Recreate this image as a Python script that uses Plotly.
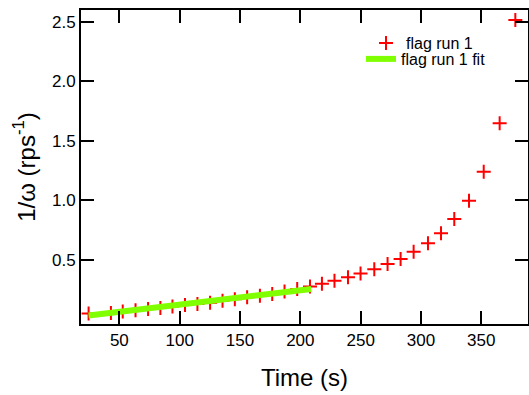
import plotly.graph_objects as go

time_s = [24.5, 43.0, 52.8, 63.4, 73.8, 84.0, 94.0, 104.4, 114.7, 125.2,
          135.5, 145.7, 155.9, 166.5, 176.7, 186.9, 197.4, 208.0, 217.9, 228.3,
          239.5, 249.9, 261.3, 272.3, 283.1, 293.9, 305.8, 316.6, 327.6, 339.8,
          352.0, 365.2, 378.2]
inv_omega = [0.050, 0.055, 0.066, 0.077, 0.088, 0.097, 0.108, 0.122, 0.130, 0.141,
             0.158, 0.170, 0.187, 0.200, 0.214, 0.234, 0.256, 0.276, 0.301, 0.326,
             0.355, 0.387, 0.422, 0.466, 0.508, 0.570, 0.640, 0.724, 0.845, 0.998,
             1.242, 1.649, 2.517]

fit_time = [24.5, 209.0]
fit_inv_omega = [0.033, 0.256]

x_ticks = [50, 100, 150, 200, 250, 300, 350]
y_ticks = [0.5, 1.0, 1.5, 2.0, 2.5]

FONT = "Liberation Sans, Arial, Helvetica, sans-serif"

fig = go.Figure()
fig.add_trace(go.Scatter(
    x=time_s, y=inv_omega, mode="markers", name="flag run 1",
    marker=dict(symbol="cross-thin-open", size=10, color="#ff0000",
                line=dict(color="#ff0000", width=2)),
    legend="legend",
))
fig.add_trace(go.Scatter(
    x=fit_time, y=fit_inv_omega, mode="lines", name="flag run 1 fit",
    line=dict(color="#80ff00", width=6),
    legend="legend2",
))

axis_common = dict(
    showline=True, linecolor="black", linewidth=2, mirror="ticks",
    ticks="inside", ticklen=13, tickwidth=2, tickcolor="black",
    showgrid=False, zeroline=False,
    tickfont=dict(family=FONT, size=17, color="black"),
)

fig.update_layout(
    width=529, height=395,
    margin=dict(l=81, r=1, t=10, b=71, autoexpand=False),
    paper_bgcolor="white", plot_bgcolor="white",
    font=dict(family=FONT, color="black"),
    showlegend=True,
    xaxis=dict(range=[18.2, 388.7], tickvals=x_ticks,
               title=dict(text="Time (s)", font=dict(family=FONT, size=24), standoff=20),
               **axis_common),
    yaxis=dict(range=[-0.038, 2.60], tickvals=y_ticks, tickformat=".1f",
               title=dict(text="1/ω (rps<sup>-1</sup>)", font=dict(family=FONT, size=24), standoff=10),
               **axis_common),
    legend=dict(x=0.6376, y=0.9491, xref="paper", yref="paper",
                xanchor="left", yanchor="top", bgcolor="rgba(0,0,0,0)",
                borderwidth=0, font=dict(family=FONT, size=16, color="black")),
    legend2=dict(x=0.6264, y=0.8981, xref="paper", yref="paper",
                 xanchor="left", yanchor="top", bgcolor="rgba(0,0,0,0)",
                 borderwidth=0, font=dict(family=FONT, size=16, color="black")),
)

fig.write_html("out.html", config={"displayModeBar": False},
               post_script="document.body.style.margin='0px';document.body.style.overflow='hidden';")
